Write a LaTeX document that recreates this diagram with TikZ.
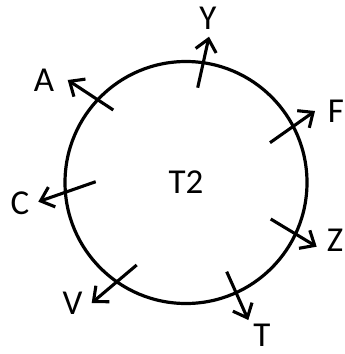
\documentclass[tikz,border=0pt]{standalone}
\usepackage{fontspec}
\setmainfont{Carlito}
\usetikzlibrary{arrows.meta}
\begin{document}
\begin{tikzpicture}[x=1pt,y=-1pt,
  ring/.style={draw, circle, line width=3.2pt, minimum size=242pt, inner sep=0pt, font=\fontsize{35}{38}\selectfont},
  ray/.style={line width=3.1pt, -{Straight Barb[length=12pt,width=21pt,line width=3.1pt]}},
  lbl/.style={inner sep=0pt, font=\fontsize{35}{38}\selectfont}]
\useasboundingbox (0,0) rectangle (345,354);
\node[ring] (c) at (186,182.5) {T2};
% start points
\coordinate (sY) at (197.7,87.7);
\coordinate (sA) at (113.3,110);
\coordinate (sF) at (270,142.7);
\coordinate (sC) at (95.7,181.7);
\coordinate (sZ) at (270.7,219);
\coordinate (sT) at (226.7,271.7);
\coordinate (sV) at (136.7,265);
% tips
\coordinate (tY) at (209,36.7);
\coordinate (tA) at (67.7,80);
\coordinate (tF) at (315,111);
\coordinate (tC) at (38.3,201.7);
\coordinate (tZ) at (316.7,246.7);
\coordinate (tT) at (248.3,320);
\coordinate (tV) at (91.7,303);
% labels
\node[lbl] (Y) at (208,18) {Y};
\node[lbl] (A) at (44,80) {A};
\node[lbl] (F) at (336,111) {F};
\node[lbl] (C) at (20,203) {C};
\node[lbl] (Z) at (335,240) {Z};
\node[lbl] (T) at (262,335) {T};
\node[lbl] (V) at (72.5,303) {V};
\foreach \k in {Y,A,F,C,Z,T,V}{
  \draw[ray] (s\k) -- (t\k);
}
\end{tikzpicture}
\end{document}
